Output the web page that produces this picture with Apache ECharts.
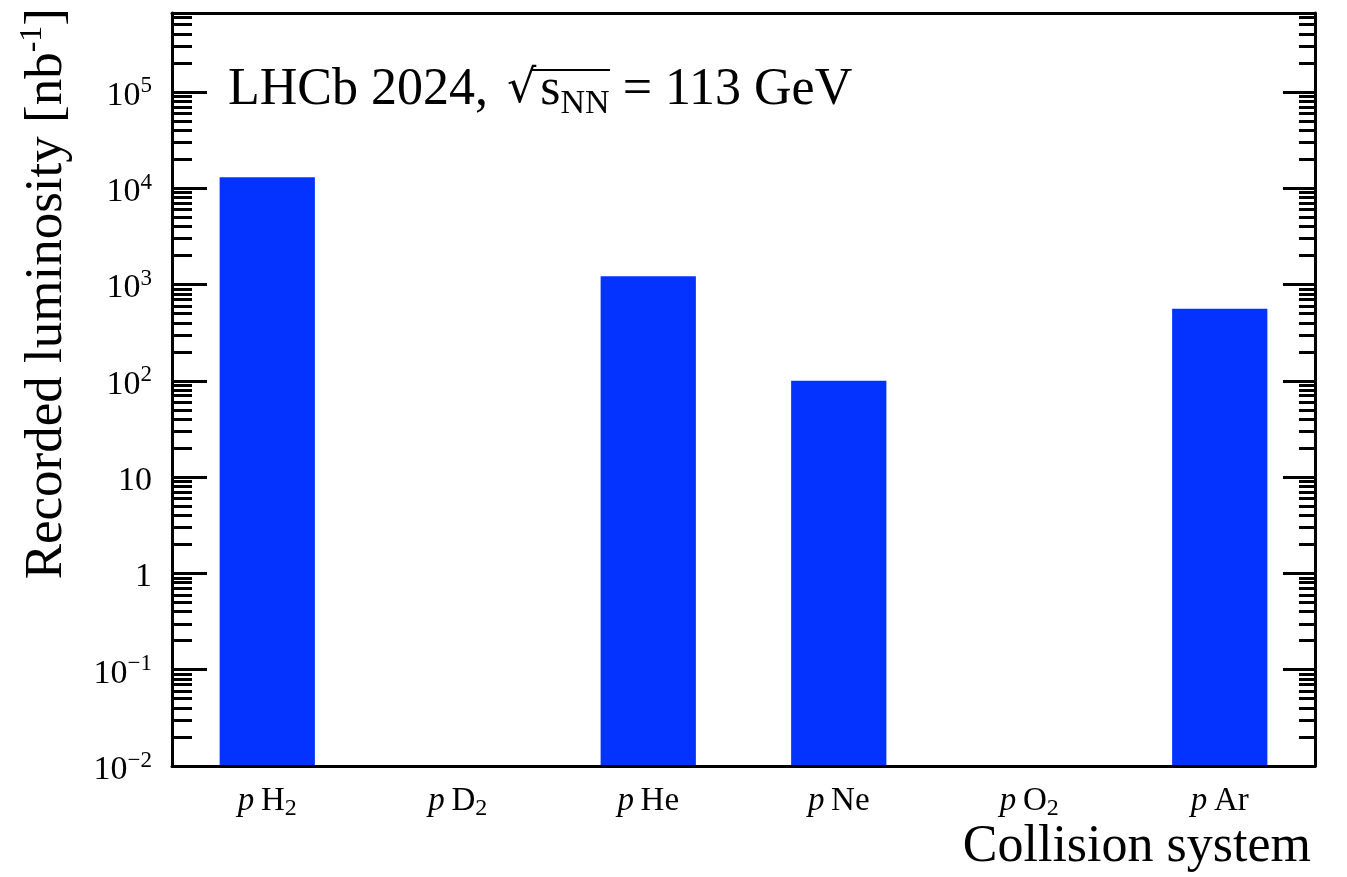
<!DOCTYPE html>
<html><head><meta charset="utf-8">
<script src="https://cdn.jsdelivr.net/npm/echarts@6/dist/echarts.min.js"></script>
<style>html,body{margin:0;padding:0;background:#fff}#c{width:1347px;height:877px}</style>
</head><body><div id="c"></div>
<script>
// ---- data ----
const categories = ['pH2', 'pD2', 'pHe', 'pNe', 'pO2', 'pAr'];
const luminosity = [13000, null, 1220, 100, null, 560];
const yTickValues = [0.01, 0.1, 1, 10, 100, 1000, 10000, 100000];
const yTickLabels = ['10|\u22122', '10|\u22121', '1', '10', '10|2', '10|3', '10|4', '10|5'];
const yMin = 0.01, yMax = 6.6e5;
const minorMultipliers = [2, 3, 4, 5, 6, 7, 8, 9];

const SERIF = 'Liberation Serif';
const minorValues = [];
yTickValues.forEach(d => minorMultipliers.forEach(m => { const v = +(d * m).toPrecision(6); if (v < yMax) minorValues.push(v); }));

function yLabel(v) {
  const lv = Math.log10(v);
  const i = yTickValues.findIndex(t => Math.abs(Math.log10(t) - lv) < 1e-6);
  if (i < 0) return '';
  const parts = yTickLabels[i].split('|');
  return '{b|' + parts[0] + '}' + (parts[1] ? '{sup|' + parts[1] + '}' : '');
}
function catLabel(v) {
  const m = /^p([A-Z][a-z]?)(\d?)$/.exec(v);
  return '{i|p}{n|\u2009' + m[1] + '}' + (m[2] ? '{sub|' + m[2] + '}' : '');
}

const axisLineStyle = { color: '#000', width: 3 };
const tickLineStyle = { color: '#000', width: 3 };
const baseY = { type: 'log', min: yMin, max: yMax, splitLine: { show: false }, axisLabel: { show: false } };

const chart = echarts.init(document.getElementById('c'), null, { renderer: 'canvas' });
chart.setOption({
  animation: false,
  backgroundColor: '#fff',
  grid: { left: 172, right: 32, top: 13, bottom: 111, containLabel: false },
  xAxis: [
    { type: 'category', data: categories, position: 'bottom', z: 5,
      axisLine: { lineStyle: axisLineStyle },
      axisTick: { inside: true, length: 24, lineStyle: tickLineStyle },
      axisLabel: { formatter: catLabel, margin: 22, color: '#000',
        rich: {
          i: { fontFamily: SERIF, fontStyle: 'italic', fontSize: 33, lineHeight: 33, padding: [0, 0, 6, 0], color: '#000' },
          n: { fontFamily: SERIF, fontSize: 33, lineHeight: 33, padding: [0, 0, 6, 0], color: '#000' },
          sub: { fontFamily: SERIF, fontSize: 24, lineHeight: 24, verticalAlign: 'bottom', color: '#000' }
        } } },
    { type: 'category', data: categories, position: 'top', z: 5,
      axisLine: { lineStyle: axisLineStyle },
      axisTick: { inside: true, length: 24, lineStyle: tickLineStyle },
      axisLabel: { show: false } }
  ],
  yAxis: [
    Object.assign({}, baseY, { position: 'left', startValue: yMin, z: 5,
      axisLine: { show: true, lineStyle: axisLineStyle },
      axisTick: { show: true, inside: true, length: 35, lineStyle: tickLineStyle },
      axisLabel: { show: true, formatter: yLabel, margin: 20, color: '#000', showMaxLabel: false,
        rich: {
          b: { fontFamily: SERIF, fontSize: 34, lineHeight: 34, padding: [8, 0, 0, 0], color: '#000' },
          sup: { fontFamily: SERIF, fontSize: 23, lineHeight: 23, verticalAlign: 'top', color: '#000' }
        } } }),
    Object.assign({}, baseY, { position: 'left', z: 5,
      axisLine: { show: false },
      axisTick: { show: true, inside: true, length: 20, customValues: minorValues, lineStyle: tickLineStyle } }),
    Object.assign({}, baseY, { position: 'right', z: 5,
      axisLine: { show: true, lineStyle: axisLineStyle },
      axisTick: { show: true, inside: true, length: 32, lineStyle: tickLineStyle } }),
    Object.assign({}, baseY, { position: 'right', z: 5,
      axisLine: { show: false },
      axisTick: { show: true, inside: true, length: 16, customValues: minorValues, lineStyle: tickLineStyle } })
  ],
  series: [{
    type: 'bar', xAxisIndex: 0, yAxisIndex: 0, data: luminosity, barWidth: '50%', z: 1,
    itemStyle: { color: '#0433ff' }
  }],
  graphic: [
    { type: 'text', x: 228, y: 69, z: 10,
      style: { text: '{a|LHCb 2024, }{r|\u221A}{a|s}{sub|NN}{a| = 113 GeV}', verticalAlign: 'top', align: 'left',
        rich: {
          a: { fontFamily: SERIF, fontSize: 52, lineHeight: 52, padding: [0, 0, 9, 0], color: '#000' },
          r: { fontFamily: 'DejaVu Serif', fontSize: 46, lineHeight: 52, padding: [0, 4, 9, 6], color: '#000' },
          sub: { fontFamily: SERIF, fontSize: 34, lineHeight: 34, verticalAlign: 'bottom', color: '#000' }
        } } },
    { type: 'line', z: 10, shape: { x1: 531, y1: 70, x2: 610, y2: 70 }, style: { stroke: '#000', lineWidth: 2 } },
    { type: 'text', x: 43, y: 8, rotation: Math.PI / 2, z: 10,
      style: { text: '{t|Recorded luminosity [nb}{sup|-1}{t|]}', align: 'right', verticalAlign: 'middle',
        rich: {
          t: { fontFamily: SERIF, fontSize: 53, lineHeight: 53, padding: [8, 0, 0, 0], color: '#000' },
          sup: { fontFamily: SERIF, fontSize: 32, lineHeight: 32, verticalAlign: 'top', color: '#000' }
        } } },
    { type: 'text', x: 1311, y: 873, z: 10,
      style: { text: 'Collision system', align: 'right', verticalAlign: 'bottom', fontFamily: SERIF, fontSize: 52, fill: '#000' } }
  ]
});
</script></body></html>
